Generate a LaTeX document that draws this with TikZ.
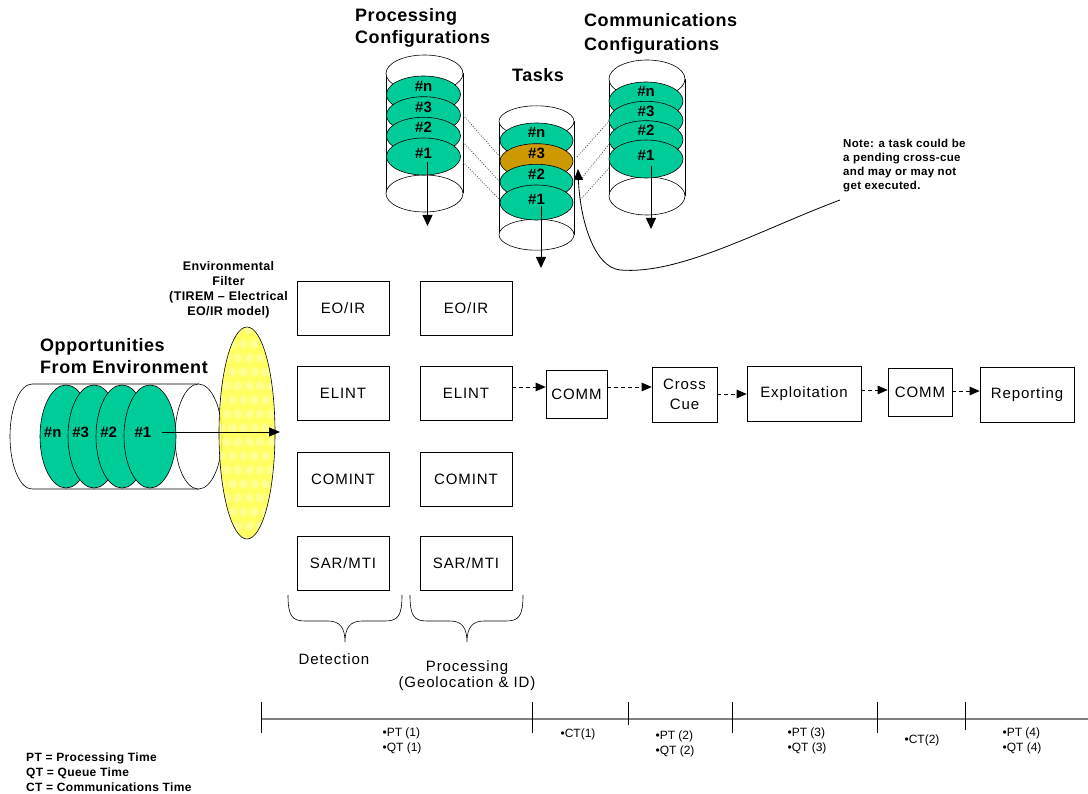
\documentclass[tikz,border=0pt]{standalone}
\usepackage{fontspec}
\setmainfont{Liberation Sans}
\newfontfamily\widesans[LetterSpace=6]{Liberation Sans}
\newfontfamily\titlesans[LetterSpace=3]{Liberation Sans}
\usetikzlibrary{arrows.meta,shapes.geometric,calc}

\definecolor{diskgreen}{RGB}{0,204,153}
\definecolor{diskgold}{RGB}{204,153,0}
\definecolor{filteryellow}{RGB}{255,255,70}
\definecolor{axisgray}{RGB}{128,128,128}
\definecolor{dotgray}{RGB}{70,70,70}

\tikzset{
  outline/.style={draw=black, line width=0.6pt},
  disk/.style={ellipse, draw=black, line width=0.6pt, fill=diskgreen, inner sep=0pt, minimum width=74pt, minimum height=37pt},
  vdisk/.style={ellipse, draw=black, line width=0.6pt, fill=diskgreen, inner sep=0pt, minimum width=52pt, minimum height=103pt},
  disklabel/.style={inner sep=0pt, font=\fontsize{15}{18}\selectfont\bfseries},
  title/.style={inner sep=0pt, align=left, font=\titlesans\fontsize{18}{22}\selectfont\bfseries},
  sensor/.style={draw=black, line width=0.6pt, fill=white, minimum width=92pt, minimum height=54pt, inner sep=0pt, font=\widesans\fontsize{15}{18}\selectfont},
  stage/.style={draw=black, line width=0.6pt, fill=white, inner sep=0pt, align=center, font=\widesans\fontsize{15}{20}\selectfont},
  flow/.style={draw=black, line width=0.8pt, dash pattern=on 4pt off 3pt, -{Triangle[length=10pt,width=8.5pt]}},
  drop/.style={draw=black, line width=0.8pt, -{Triangle[length=11pt,width=10pt]}},
  link/.style={draw=dotgray, line width=0.7pt, dash pattern=on 1pt off 1.5pt},
  tickmark/.style={draw=black, line width=0.8pt},
  small/.style={inner sep=0pt, align=left, font=\fontsize{12}{15}\selectfont},
  smallbold/.style={inner sep=0pt, font=\titlesans\fontsize{12}{15}\selectfont\bfseries},
}

\begin{document}
\begin{tikzpicture}[x=1pt,y=-1pt]
\useasboundingbox (0,0) rectangle (1088,794);
\fill[white] (0,0) rectangle (1088,794);

% ---------- processing configurations cylinder ----------
\fill[white] (386,73.5) rectangle (463,193.5);
\draw[outline] (386,73.5) -- (386,193.5) (463,73.5) -- (463,193.5);
\draw[outline, fill=white] (424.5,193.5) ellipse [x radius=38.5, y radius=18.5];
\draw[outline, fill=white] (424.5,73.5) ellipse [x radius=38.5, y radius=18.5];
\node[disk] (pn) at (423.5,94.5) {};
\node[disk] (p3) at (423.5,115.2) {};
\node[disk] (p2) at (423.5,135.8) {};
\node[disk] (p1) at (423.5,156.5) {};
\node[disklabel] at ([yshift=-10.5pt]pn.north) {\#n};
\node[disklabel] at ([yshift=-10.5pt]p3.north) {\#3};
\node[disklabel] at ([yshift=-10.5pt]p2.north) {\#2};
\node[disklabel] at ([yshift=3.5pt]p1.center) {\#1};

% ---------- tasks cylinder ----------
\fill[white] (499,121.3) rectangle (574,234.7);
\draw[outline] (499,121.3) -- (499,234.7) (574,121.3) -- (574,234.7);
\draw[outline, fill=white] (536.5,234.7) ellipse [x radius=37.5, y radius=15.5];
\draw[outline, fill=white] (536.5,121.3) ellipse [x radius=37.5, y radius=15.5];
\node[disk, minimum width=73pt, minimum height=35pt] (tn) at (536.5,140.5) {};
\node[disk, minimum width=73pt, minimum height=35pt, fill=diskgold] (t3) at (536.5,161.2) {};
\node[disk, minimum width=73pt, minimum height=35pt] (t2) at (536.5,181.8) {};
\node[disk, minimum width=73pt, minimum height=35pt] (t1) at (536.5,202.5) {};
\node[disklabel] at ([yshift=-10pt]tn.north) {\#n};
\node[disklabel] at ([yshift=-10pt]t3.north) {\#3};
\node[disklabel] at ([yshift=-10pt]t2.north) {\#2};
\node[disklabel] at ([yshift=3.5pt]t1.center) {\#1};

% ---------- communications configurations cylinder ----------
\fill[white] (609,79) rectangle (685,196);
\draw[outline] (609,79) -- (609,196) (685,79) -- (685,196);
\draw[outline, fill=white] (647,196) ellipse [x radius=38, y radius=19];
\draw[outline, fill=white] (647,79) ellipse [x radius=38, y radius=19];
\node[disk, minimum height=38pt] (cn) at (646,101) {};
\node[disk, minimum height=38pt] (c3) at (646,120.3) {};
\node[disk, minimum height=38pt] (c2) at (646,139.7) {};
\node[disk, minimum height=38pt] (c1) at (646,159) {};
\node[disklabel] at ([yshift=-10pt]cn.north) {\#n};
\node[disklabel] at ([yshift=-10pt]c3.north) {\#3};
\node[disklabel] at ([yshift=-10pt]c2.north) {\#2};
\node[disklabel] at ([yshift=3.5pt]c1.center) {\#1};

% dotted links between the configuration stacks and the task stack
\coordinate (pa) at (463,115); \coordinate (pb) at (463,142); \coordinate (pc) at (463,162);
\coordinate (ta) at (500,157); \coordinate (tb) at (500,182); \coordinate (tc) at (500,200);
\coordinate (ua) at (577,157); \coordinate (ub) at (582,178); \coordinate (uc) at (580,200);
\coordinate (ca) at (610,120); \coordinate (cb) at (610,143); \coordinate (cc) at (610,167);
\draw[link] (pa) -- (ta); \draw[link] (pb) -- (tb); \draw[link] (pc) -- (tc);
\draw[link] (ua) -- (ca); \draw[link] (ub) -- (cb); \draw[link] (uc) -- (cc);

% outputs of the three stacks
\coordinate (pout) at (427.5,226);
\coordinate (tout) at (541,268);
\coordinate (cout) at (651,229);
\draw[drop] ([xshift=4pt,yshift=-6pt]p1.center) -- (pout);
\draw[drop] ([xshift=4.5pt,yshift=-4pt]t1.center) -- (tout);
\draw[drop] ([xshift=5pt,yshift=-7pt]c1.center) -- (cout);

% titles
\node[title, anchor=west] at (355,28) {Processing\\Configurations};
\node[title, anchor=west, font=\titlesans\fontsize{18}{24}\selectfont\bfseries] at (584,34) {Communications\\Configurations};
\node[title] at (538,75) {Tasks};

% note and cross-cue feedback
\node[smallbold, align=left, font=\titlesans\fontsize{11.5}{14}\selectfont\bfseries, anchor=west] (note) at (843,166)
  {Note: a task could be\\a pending cross-cue\\and may or may not\\get executed.};
\coordinate (cuestart) at (840,200);
\coordinate (cuetip) at (578,169);
\draw[line width=0.8pt, -{Triangle[length=11pt,width=9pt]}] (cuestart)
  .. controls (760,230) and (680,275) .. (620,270)
  .. controls (594,267) and (580,220) .. (cuetip);

% ---------- opportunities from environment ----------
\draw[outline, fill=white] (198.5,384) -- (32,384)
  arc[start angle=270, end angle=90, x radius=22, y radius=52.5] -- (198.5,489) -- cycle;
\draw[outline, fill=white] (198.5,436.5) ellipse [x radius=23.5, y radius=52.5];
\node[vdisk] (on) at (66,436.5) {};
\node[vdisk] (o3) at (94,436.5) {};
\node[vdisk] (o2) at (122,436.5) {};
\node[vdisk] (o1) at (150,436.5) {};
\node[disklabel] at ([xshift=13pt,yshift=4.5pt]on.west) {\#n};
\node[disklabel] at ([xshift=13pt,yshift=4.5pt]o3.west) {\#3};
\node[disklabel] at ([xshift=13pt,yshift=4.5pt]o2.west) {\#2};
\node[disklabel] at ([xshift=-7pt,yshift=4.5pt]o1.center) {\#1};
\node[title, anchor=west, font=\titlesans\fontsize{18}{22}\selectfont\bfseries] at (40,356) {Opportunities\\From Environment};

% environmental filter
\node[ellipse, minimum width=56pt, minimum height=212pt, inner sep=0pt, fill=filteryellow, fill opacity=0.85] (filter) at (247,433) {};
\begin{scope}
  \clip (247,433) ellipse [x radius=28, y radius=106];
  \foreach \i in {0,...,15}
    \foreach \j in {0,...,5}
      \fill[white, opacity=0.3] ({216+\j*11+mod(\i,2)*5.5},{330+\i*14}) circle[radius=4.5];
\end{scope}
\draw[outline] (filter.center) ellipse [x radius=28, y radius=106];
\node[smallbold, align=center, font=\titlesans\fontsize{12.5}{15}\selectfont\bfseries] at (228.5,290)
  {Environmental\\Filter\\(TIREM – Electrical\\EO/IR model)};

\coordinate (ostart) at (162,432);
\coordinate (oend) at (280,432);
\draw[line width=0.8pt, -{Triangle[length=11pt,width=9pt]}] (ostart) -- (oend);

% ---------- detection and processing sensors ----------
\node[sensor] (d1) at (343,308) {EO/IR};
\node[sensor] (d2) at (343,393) {ELINT};
\node[sensor] (d3) at (343,479) {COMINT};
\node[sensor] (d4) at (343,563.5) {SAR/MTI};
\node[sensor] (g1) at (466,308) {EO/IR};
\node[sensor] (g2) at (466,393) {ELINT};
\node[sensor] (g3) at (466,479) {COMINT};
\node[sensor] (g4) at (466,563.5) {SAR/MTI};

% braces under the two columns
\draw[outline] (288,595) .. controls (288,616) and (292,621) .. (305,621) -- (328,621)
  .. controls (340,621) and (345,628) .. (345,642)
  .. controls (345,628) and (350,621) .. (362,621) -- (385,621)
  .. controls (398,621) and (402,616) .. (402,595);
\draw[outline] (410,595) .. controls (410,616) and (414,621) .. (427,621) -- (450,621)
  .. controls (462,621) and (467,628) .. (467,642)
  .. controls (467,628) and (472,621) .. (484,621) -- (506,621)
  .. controls (519,621) and (523,616) .. (523,595);
\node[inner sep=0pt, font=\widesans\fontsize{15}{18}\selectfont] at (334,659) {Detection};
\node[inner sep=0pt, align=center, font=\widesans\fontsize{15}{15.5}\selectfont] at (467,675.5) {Processing\\(Geolocation \& ID)};

% ---------- downstream chain ----------
\node[stage, minimum width=61pt, minimum height=48pt] (comm1) at (576.5,394) {COMM};
\node[stage, minimum width=65pt, minimum height=55pt] (cross) at (684.5,394.5) {Cross\\Cue};
\node[stage, minimum width=114pt, minimum height=55pt] (exploit) at (804,393.5) {Exploitation};
\node[stage, minimum width=64pt, minimum height=48pt] (comm2) at (920,392) {COMM};
\node[stage, minimum width=94pt, minimum height=55pt] (report) at (1027,394.5) {Reporting};

\draw[flow] ([yshift=6pt]g2.east) -- (comm1.west |- 0,387);
\draw[flow] (comm1.east |- 0,387) -- (cross.west |- 0,387);
\draw[flow] (cross.east |- 0,394) -- (exploit.west |- 0,394);
\draw[flow] (exploit.east |- 0,390) -- (comm2.west |- 0,390);
\draw[flow] (comm2.east |- 0,391) -- (report.west |- 0,391);

% ---------- timeline ----------
\coordinate (axisL) at (261,719);
\coordinate (axisR) at (1088,719);
\draw[draw=axisgray, line width=2pt] (axisL) -- (axisR);
\foreach \x/\b in {261/733, 532/733, 628/725, 732/733, 877/733, 965/730}
  \draw[tickmark] (\x,702) -- (\x,\b);
\node[small] at (402,740.5) {•PT (1)\\•QT (1)};
\node[small] at (578,734) {•CT(1)};
\node[small] at (675,743.5) {•PT (2)\\•QT (2)};
\node[small] at (807,740.5) {•PT (3)\\•QT (3)};
\node[small] at (922,740) {•CT(2)};
\node[small] at (1022,740.5) {•PT (4)\\•QT (4)};

% legend
\node[smallbold, align=left, anchor=west] at (26,772) {PT = Processing Time\\QT = Queue Time\\CT = Communications Time};

\end{tikzpicture}
\end{document}
